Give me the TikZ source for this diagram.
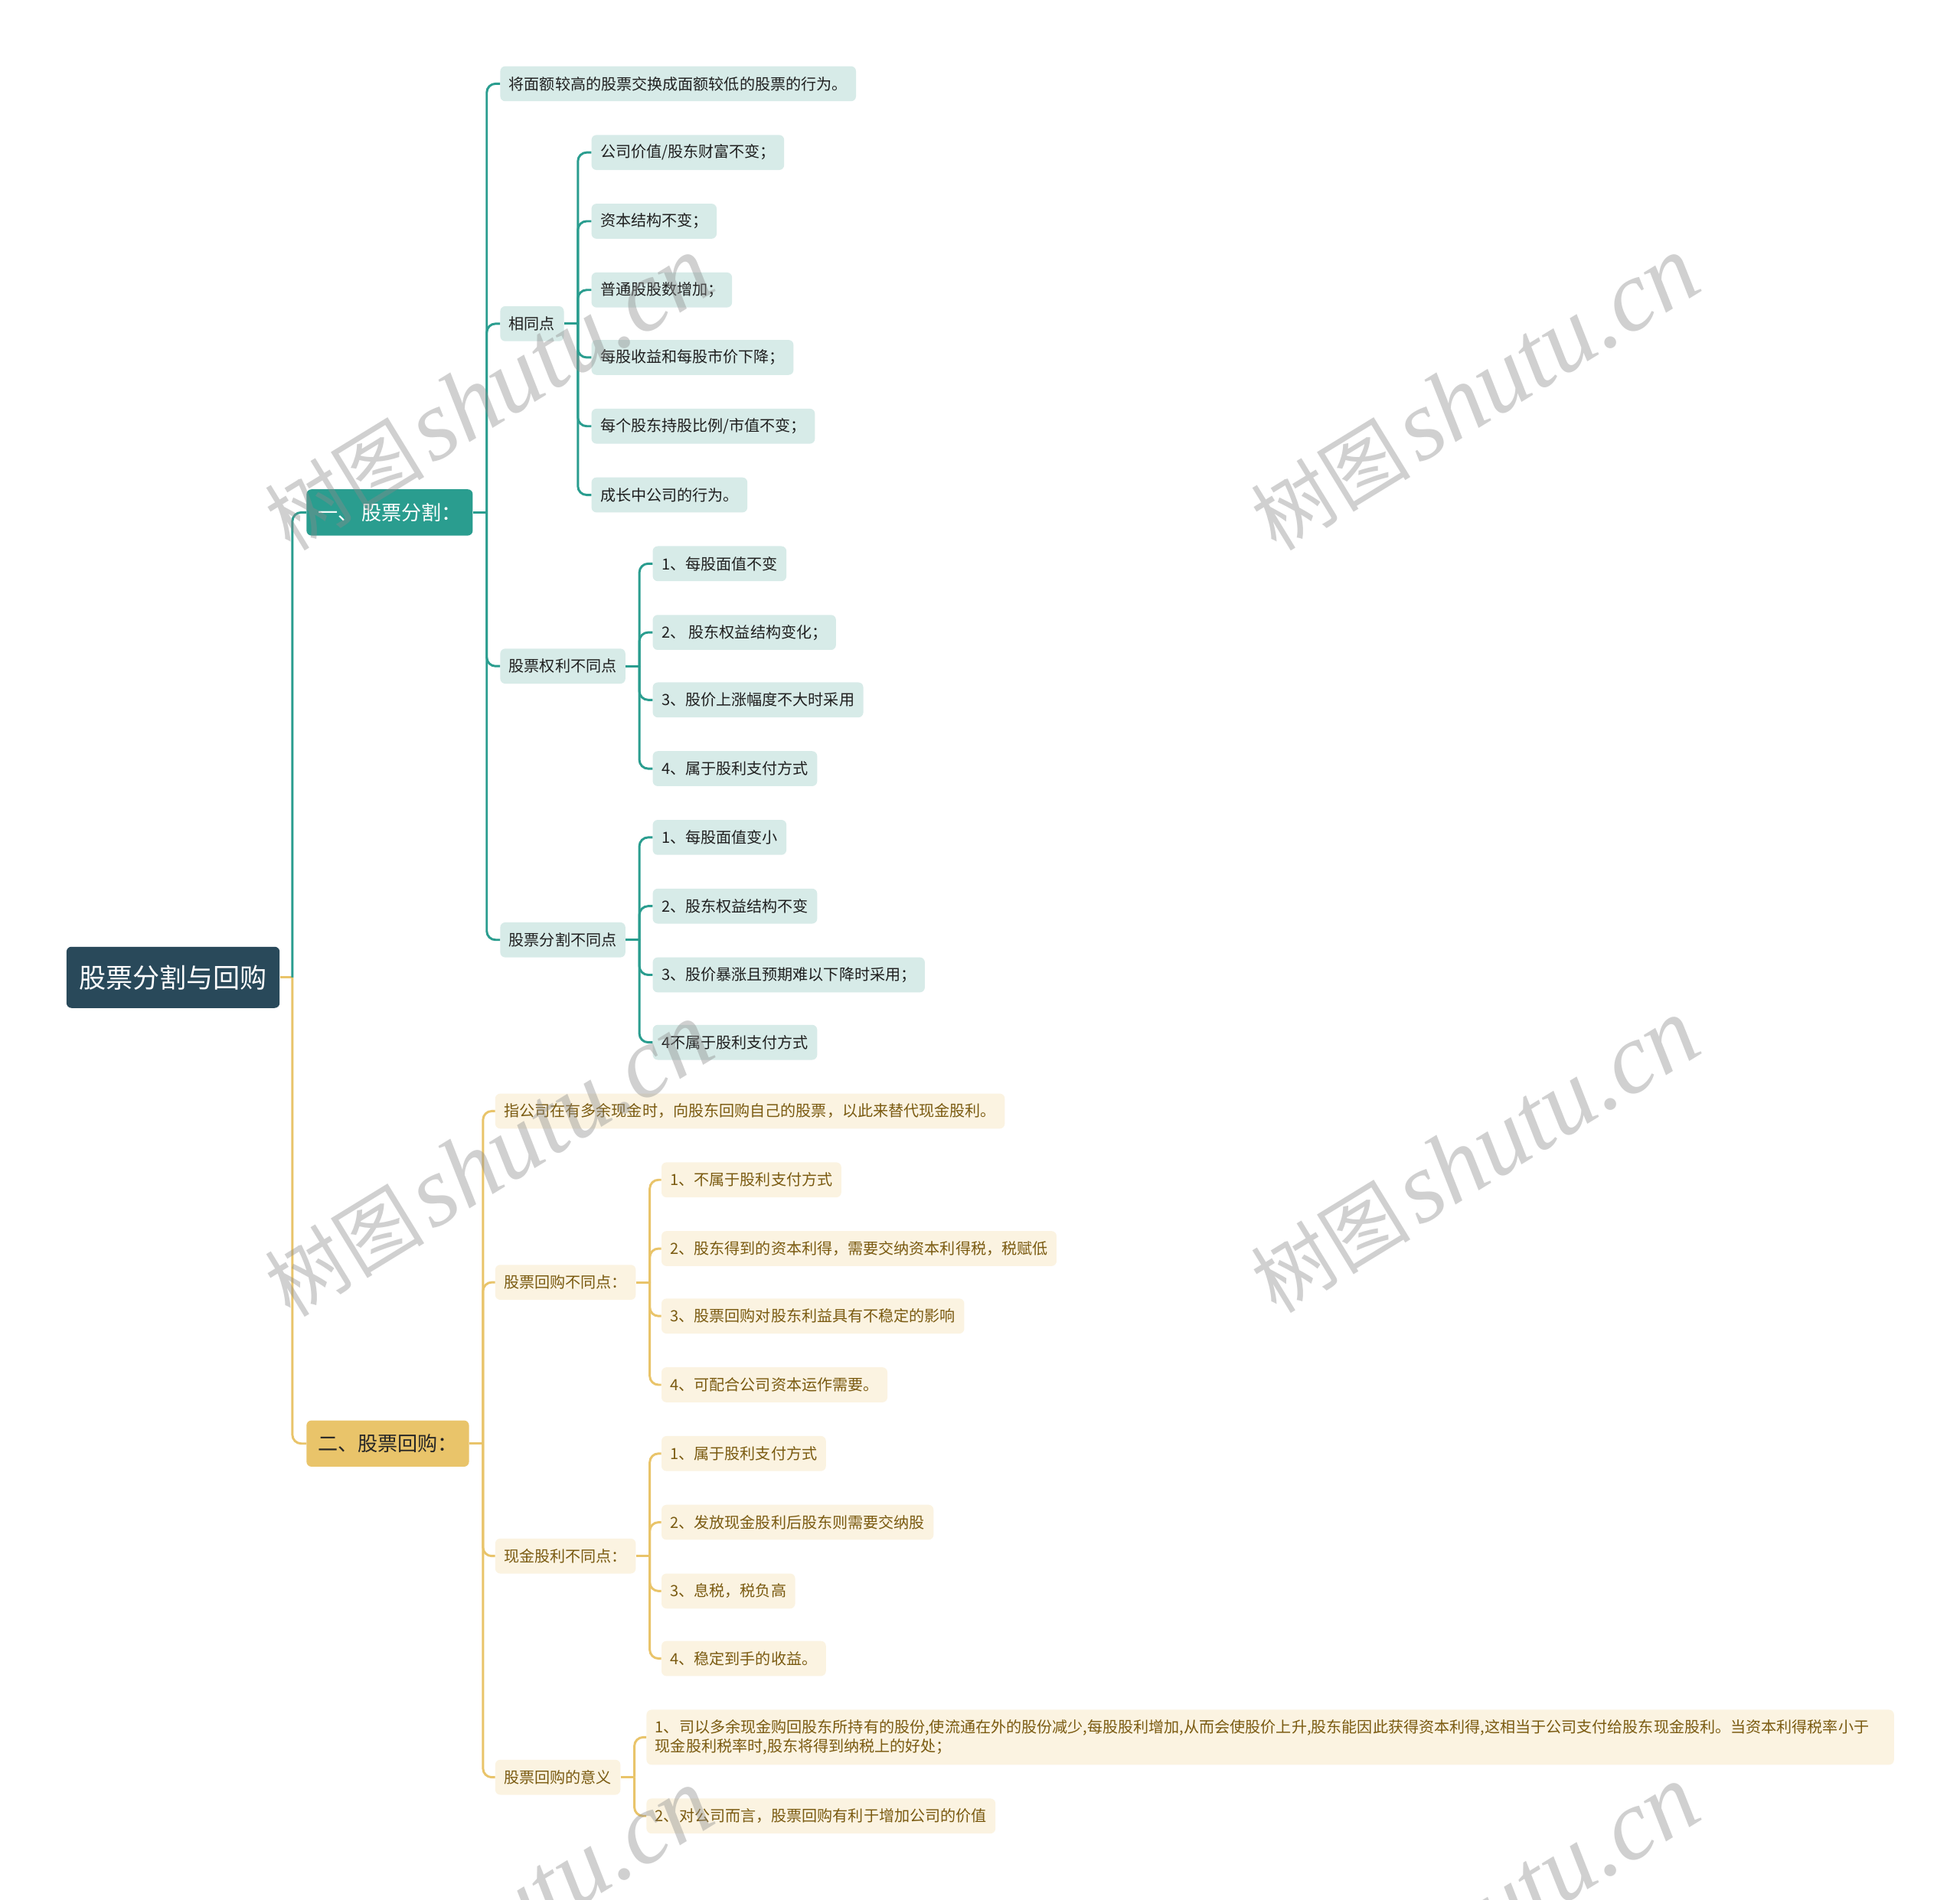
\documentclass[tikz,border=0pt]{standalone}
\usepackage{fontspec}
\setmainfont{Noto Sans CJK SC}
\newfontfamily\wmserif{Liberation Serif}
\usetikzlibrary{calc}
\definecolor{rootc}{HTML}{29495A}
\definecolor{teal1}{HTML}{2A9D8F}
\definecolor{gold1}{HTML}{E9C46A}
\definecolor{tealbg}{HTML}{D7EBE8}
\definecolor{creambg}{HTML}{FBF3E1}
\definecolor{creamtx}{HTML}{7A5A10}
\definecolor{wmgray}{HTML}{8A8A8A}
\tikzset{
  rootbox/.style={fill=rootc, text=white, rounded corners=4pt, inner xsep=10pt, minimum height=49pt, font=\fontsize{21.5}{24}\selectfont, anchor=west},
  brA/.style={fill=teal1, text=white, rounded corners=4pt, inner xsep=9pt, minimum height=37pt, font=\fontsize{16}{19}\selectfont, anchor=west},
  brB/.style={fill=gold1, text=black!85, rounded corners=4pt, inner xsep=9pt, minimum height=37pt, font=\fontsize{16}{19}\selectfont, anchor=west},
  tbox/.style={fill=tealbg, text=black!88, rounded corners=4pt, inner xsep=7pt, minimum height=28pt, font=\fontsize{12.3}{15.5}\selectfont, anchor=west},
  cbox/.style={fill=creambg, text=creamtx, rounded corners=4pt, inner xsep=7pt, minimum height=28pt, font=\fontsize{12.3}{15.5}\selectfont, anchor=west},
  tl/.style={draw=teal1, line width=1.8pt, rounded corners=7pt},
  gl/.style={draw=gold1, line width=1.8pt, rounded corners=7pt},
  wm/.style={text=wmgray, opacity=0.4, rotate=31.5, inner sep=0pt}
}
\newcommand\stubT[1]{\draw[tl] (#1.east) -- ++(11pt,0);}
\newcommand\stubG[1]{\draw[gl] (#1.east) -- ++(11pt,0);}
\newcommand\lnkT[2]{\draw[tl] ([xshift=11pt]#1.east) |- (#2.west);}
\newcommand\lnkG[2]{\draw[gl] ([xshift=11pt]#1.east) |- (#2.west);}
\begin{document}
\begin{tikzpicture}[x=1pt,y=-1pt]
\useasboundingbox (0,0) rectangle (1568,1520);
\fill[white] (0,0) rectangle (1568,1520);

% root and branches
\node[rootbox] (root) at (53,782) {股票分割与回购};
\node[brA] (b1) at (245,410) {一、\hspace{3pt}股票分割：};
\node[brB] (b2) at (245,1155) {二、股票回购：};

% branch 1 children
\node[tbox] (a0) at (400,67) {将面额较高的股票交换成面额较低的股票的行为。};
\node[tbox] (a1) at (400,259) {相同点};
\node[tbox] (a2) at (400,533) {股票权利不同点};
\node[tbox] (a3) at (400,752) {股票分割不同点};

\node[tbox] (a11) at (473,122) {公司价值/股东财富不变；};
\node[tbox] (a12) at (473,177) {资本结构不变；};
\node[tbox] (a13) at (473,232) {普通股股数增加；};
\node[tbox] (a14) at (473,286) {每股收益和每股市价下降；};
\node[tbox] (a15) at (473,341) {每个股东持股比例/市值不变；};
\node[tbox] (a16) at (473,396) {成长中公司的行为。};

\node[tbox] (a21) at (522,451) {1、每股面值不变};
\node[tbox] (a22) at (522,506) {2、 股东权益结构变化；};
\node[tbox] (a23) at (522,560) {3、股价上涨幅度不大时采用};
\node[tbox] (a24) at (522,615) {4、属于股利支付方式};

\node[tbox] (a31) at (522,670) {1、每股面值变小};
\node[tbox] (a32) at (522,725) {2、股东权益结构不变};
\node[tbox] (a33) at (522,780) {3、股价暴涨且预期难以下降时采用；};
\node[tbox] (a34) at (522,834) {4不属于股利支付方式};

% branch 2 children
\node[cbox] (c0) at (396,889) {指公司在有多余现金时，向股东回购自己的股票，以此来替代现金股利。};
\node[cbox] (c1) at (396,1026) {股票回购不同点：};
\node[cbox] (c2) at (396,1245) {现金股利不同点：};
\node[cbox] (c3) at (396,1422) {股票回购的意义};

\node[cbox] (c11) at (529,944) {1、不属于股利支付方式};
\node[cbox] (c12) at (529,999) {2、股东得到的资本利得，需要交纳资本利得税，税赋低};
\node[cbox] (c13) at (529,1053) {3、股票回购对股东利益具有不稳定的影响};
\node[cbox] (c14) at (529,1108) {4、可配合公司资本运作需要。};

\node[cbox] (c21) at (529,1163) {1、属于股利支付方式};
\node[cbox] (c22) at (529,1218) {2、发放现金股利后股东则需要交纳股};
\node[cbox] (c23) at (529,1273) {3、息税，税负高};
\node[cbox] (c24) at (529,1327) {4、稳定到手的收益。};

\node[cbox, align=left, text width=984pt, minimum height=44pt] (c31) at (517,1390) {1、司以多余现金购回股东所持有的股份,使流通在外的股份减少,每股股利增加,从而会使股价上升,股东能因此获得资本利得,这相当于公司支付给股东现金股利。当资本利得税率小于\\现金股利税率时,股东将得到纳税上的好处；};
\node[cbox] (c32) at (517,1453) {2、对公司而言，股票回购有利于增加公司的价值};

% connectors: root
\draw[gl] (root.east) -- ++(10pt,0);
\draw[tl] ([xshift=10pt]root.east) |- (b1.west);
\draw[gl] ([xshift=10pt]root.east) |- (b2.west);

% branch 1
\stubT{b1}
\lnkT{b1}{a0}\lnkT{b1}{a1}\lnkT{b1}{a2}\lnkT{b1}{a3}
\stubT{a1}
\lnkT{a1}{a11}\lnkT{a1}{a12}\lnkT{a1}{a13}\lnkT{a1}{a14}\lnkT{a1}{a15}\lnkT{a1}{a16}
\stubT{a2}
\lnkT{a2}{a21}\lnkT{a2}{a22}\lnkT{a2}{a23}\lnkT{a2}{a24}
\stubT{a3}
\lnkT{a3}{a31}\lnkT{a3}{a32}\lnkT{a3}{a33}\lnkT{a3}{a34}

% branch 2
\stubG{b2}
\lnkG{b2}{c0}\lnkG{b2}{c1}\lnkG{b2}{c2}\lnkG{b2}{c3}
\stubG{c1}
\lnkG{c1}{c11}\lnkG{c1}{c12}\lnkG{c1}{c13}\lnkG{c1}{c14}
\stubG{c2}
\lnkG{c2}{c21}\lnkG{c2}{c22}\lnkG{c2}{c23}\lnkG{c2}{c24}
\stubG{c3}
\lnkG{c3}{c31}\lnkG{c3}{c32}

% watermarks
\begin{scope}
\clip (0,0) rectangle (1568,1520);
\foreach \wx/\wy [count=\i] in {391/315, 1180/315, 391/928, 1180/925, 391/1541, 1180/1538}{
  \node[wm] (wm\i) at (\wx,\wy) {\fontsize{64}{70}\selectfont 树图\hspace{6pt}{\wmserif\itshape\fontsize{80}{90}\selectfont shutu.cn}};
}
\end{scope}
\end{tikzpicture}
\end{document}
